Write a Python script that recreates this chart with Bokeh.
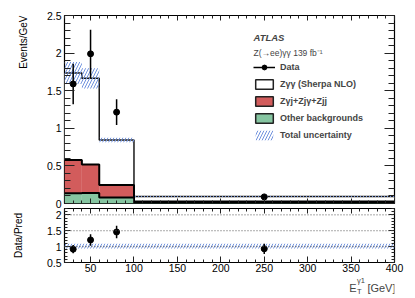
from bokeh.plotting import figure
from bokeh.layouts import column
from bokeh.models import (Range1d, FixedTicker, LinearAxis, Label, Legend, LegendItem,
                          Span, NumeralTickFormatter, Title)
from bokeh.embed import file_html
from bokeh.resources import INLINE

# ---------------- data ----------------
bin_edges = [20, 40, 60, 100, 400]
other_bkg = [0.135, 0.14, 0.08, 0.012]          # Other backgrounds
zgj_bkg = [0.445, 0.38, 0.165, 0.013]           # Zγj+Zjγ+Zjj
zgg_sherpa = [1.155, 1.145, 0.60, 0.068]        # Zγγ (Sherpa NLO)
total_unc = [0.145, 0.135, 0.03, 0.006]         # total uncertainty (abs)
data_x = [30, 50, 80, 250]
data_y = [1.59, 1.99, 1.215, 0.088]
data_err = [0.27, 0.32, 0.17, 0.015]
ratio_y = [0.92, 1.21, 1.46, 0.93]
ratio_err = [0.13, 0.18, 0.20, 0.16]
ratio_band_lo = [0.94, 0.94, 0.94, 0.94]
ratio_band_hi = [1.09, 1.09, 1.09, 1.09]
ratio_ref_lines = [1.0, 1.5, 2.0]

x_major = [50, 100, 150, 200, 250, 300, 350, 400]
x_minor = [v for v in range(20, 401, 10) if v % 50 != 0]
y_major = [0, 0.5, 1, 1.5, 2, 2.5]
y_minor = [round(v * 0.1, 1) for v in range(0, 26) if v % 5 != 0]
r_major = [0.5, 1, 1.5, 2]
r_minor = [round(v * 0.1, 1) for v in range(5, 23) if v % 5 != 0]

FONT = "Liberation Sans"
RED = "#d25c5c"
GREEN = "#86c5a1"
HATCH = "#6f91dd"

lefts = bin_edges[:-1]
rights = bin_edges[1:]
green_top = other_bkg[:]
red_top = [g + r for g, r in zip(green_top, zgj_bkg)]
total = [r + s for r, s in zip(red_top, zgg_sherpa)]


def stepy(vals):
    return vals + [vals[-1]]


def style_axis(ax, ticks, minor, tin, min_in, labels=True):
    ax.ticker = FixedTicker(ticks=ticks, minor_ticks=minor)
    ax.major_tick_in = tin
    ax.major_tick_out = 0
    ax.minor_tick_in = min_in
    ax.minor_tick_out = 0
    ax.axis_line_color = None
    ax.major_tick_line_color = "#222222"
    ax.minor_tick_line_color = "#222222"
    ax.major_tick_line_width = 1
    ax.minor_tick_line_width = 1
    if labels:
        ax.formatter = NumeralTickFormatter(format="0.[0]")
        ax.major_label_text_font = FONT
        ax.major_label_text_font_size = "10.5px"
        ax.major_label_text_color = "black"
    else:
        ax.major_label_text_color = None
        ax.major_label_text_font_size = "1px"
        ax.major_label_standoff = 0


def axis_title(ax, text, standoff):
    ax.axis_label = text
    ax.axis_label_text_font = FONT
    ax.axis_label_text_font_size = "10px"
    ax.axis_label_text_font_style = "normal"
    ax.axis_label_text_color = "black"
    ax.axis_label_standoff = standoff


W = 410
BL, BR = 64, 16

# ---------------- top panel ----------------
p1 = figure(width=W, height=208, x_range=Range1d(20, 400), y_range=Range1d(0, 2.5),
            output_backend="svg", toolbar_location=None,
            x_axis_location=None, y_axis_location=None,
            min_border_left=BL, min_border_right=BR, min_border_top=15, min_border_bottom=5)
p1.grid.visible = False
p1.outline_line_color = "black"
p1.outline_line_width = 1.2

ax = LinearAxis(); style_axis(ax, y_major, y_minor, 10, 6); ax.major_label_standoff = 3
p1.add_layout(ax, "left")
# ROOT-style y title, aligned with the top of the axis
p1.add_layout(Title(text="Events/GeV", align="right", vertical_align="bottom", standoff=30,
                    offset=0, text_font=FONT, text_font_size="10px",
                    text_font_style="normal", text_color="black"), "left")
ax = LinearAxis(); style_axis(ax, y_major, y_minor, 10, 6, labels=False)
p1.add_layout(ax, "right")
ax = LinearAxis(); style_axis(ax, x_major, x_minor, 5, 3, labels=False)
p1.add_layout(ax, "below")
ax = LinearAxis(); style_axis(ax, x_major, x_minor, 5, 3, labels=False)
p1.add_layout(ax, "above")

p1.quad(left=lefts, right=rights, bottom=0, top=green_top, fill_color=GREEN, line_alpha=0)
p1.quad(left=lefts, right=rights, bottom=green_top, top=red_top, fill_color=RED, line_alpha=0)
p1.quad(left=lefts, right=rights, bottom=red_top, top=total, fill_color="white", line_alpha=0)
p1.step(x=bin_edges, y=stepy(total), mode="after", line_color="#1a1a1a", line_width=1.5)
p1.step(x=bin_edges, y=stepy(red_top), mode="after", line_color="black", line_width=2)
p1.step(x=bin_edges, y=stepy(green_top), mode="after", line_color="black", line_width=2)
p1.quad(left=lefts, right=rights,
        bottom=[t - u for t, u in zip(total, total_unc)],
        top=[t + u for t, u in zip(total, total_unc)],
        fill_alpha=0, line_alpha=0, hatch_pattern="/", hatch_color=HATCH,
        hatch_scale=6, hatch_weight=1)
err = p1.segment(x0=data_x, x1=data_x,
                 y0=[y - e for y, e in zip(data_y, data_err)],
                 y1=[y + e for y, e in zip(data_y, data_err)],
                 line_color="black", line_width=1.5)
pts = p1.scatter(x=data_x, y=data_y, size=6, marker="circle", fill_color="black", line_color="black")

# legend proxies: zero-size boxes at the axis origin (only their styles are used)
x0p = [bin_edges[0]]
y0p = [0]
lg_zgg = p1.quad(left=x0p, right=x0p, bottom=y0p, top=y0p, fill_color="white",
                 line_color="#222222", line_width=1.5)
lg_red = p1.quad(left=x0p, right=x0p, bottom=y0p, top=y0p, fill_color=RED,
                 line_color="#222222", line_width=1.5)
lg_green = p1.quad(left=x0p, right=x0p, bottom=y0p, top=y0p, fill_color=GREEN,
                   line_color="#222222", line_width=1.5)
lg_unc = p1.quad(left=x0p, right=x0p, bottom=y0p, top=y0p, fill_alpha=0, line_alpha=0,
                 hatch_pattern="/", hatch_color=HATCH, hatch_scale=6, hatch_weight=1)

legend = Legend(items=[
    LegendItem(label="Data", renderers=[err, pts]),
    LegendItem(label="Zγγ (Sherpa NLO)", renderers=[lg_zgg]),
    LegendItem(label="Zγj+Zjγ+Zjj", renderers=[lg_red]),
    LegendItem(label="Other backgrounds", renderers=[lg_green]),
    LegendItem(label="Total uncertainty", renderers=[lg_unc]),
], location=(189, 62))
legend.padding = 0
legend.margin = 0
legend.spacing = 5
legend.glyph_width = 22
legend.glyph_height = 12
legend.label_height = 12
legend.label_standoff = 5
legend.label_text_font = FONT
legend.label_text_font_style = "bold"
legend.label_text_font_size = "9px"
legend.border_line_alpha = 0
legend.background_fill_alpha = 0
p1.add_layout(legend, "center")

p1.add_layout(Label(x=189, y=166, x_units="screen", y_units="screen", text="ATLAS",
                    text_font=FONT, text_font_style="bold italic", text_font_size="9.5px",
                    text_baseline="alphabetic"))
p1.add_layout(Label(x=189, y=150.5, x_units="screen", y_units="screen", text="Z(→ee)γγ 139 fb⁻¹",
                    text_font=FONT, text_font_size="8.5px", text_baseline="alphabetic"))

# ---------------- ratio panel ----------------
p2 = figure(width=W, height=68, x_range=p1.x_range, y_range=Range1d(0.5, 2.2),
            output_backend="svg", toolbar_location=None,
            x_axis_location=None, y_axis_location=None,
            min_border_left=BL, min_border_right=BR, min_border_top=0, min_border_bottom=14)
p2.grid.visible = False
p2.outline_line_color = "black"
p2.outline_line_width = 1.2

ax = LinearAxis(); style_axis(ax, r_major, r_minor, 6, 3); ax.major_label_standoff = 3
axis_title(ax, "Data/Pred", 20)
p2.add_layout(ax, "left")
ax = LinearAxis(); style_axis(ax, r_major, r_minor, 6, 3, labels=False)
p2.add_layout(ax, "right")
ax = LinearAxis(); style_axis(ax, x_major, x_minor, 6, 3); ax.major_label_standoff = 1
p2.add_layout(ax, "below")
ax = LinearAxis(); style_axis(ax, x_major, x_minor, 5, 3, labels=False)
p2.add_layout(ax, "above")

for v in ratio_ref_lines:
    p2.add_layout(Span(location=v, dimension="width", line_color="#555555",
                       line_dash="1 2", line_width=1))
p2.quad(left=lefts, right=rights, bottom=ratio_band_lo, top=ratio_band_hi,
        fill_alpha=0, line_alpha=0, hatch_pattern="/", hatch_color=HATCH,
        hatch_scale=6, hatch_weight=1)
p2.segment(x0=data_x, x1=data_x,
           y0=[y - e for y, e in zip(ratio_y, ratio_err)],
           y1=[y + e for y, e in zip(ratio_y, ratio_err)],
           line_color="black", line_width=1.5)
p2.scatter(x=data_x, y=ratio_y, size=6, marker="circle", fill_color="black", line_color="black")

# ---------------- x-axis title strip (frame aligned with the panels above) ----------------
p3 = figure(width=W, height=19, x_range=Range1d(0, 1), y_range=Range1d(0, 1),
            output_backend="svg", toolbar_location=None,
            x_axis_location=None, y_axis_location=None,
            min_border_left=BL, min_border_right=BR, min_border_top=0, min_border_bottom=0)
p3.grid.visible = False
p3.outline_line_color = None
p3.add_layout(Label(x=331, y=8, x_units="screen", y_units="screen", text="[GeV]",
                    text_align="right", text_baseline="alphabetic",
                    text_font=FONT, text_font_size="11px"))
p3.add_layout(Label(x=292, y=8, x_units="screen", y_units="screen", text="E",
                    text_align="right", text_baseline="alphabetic",
                    text_font=FONT, text_font_size="11px"))
p3.add_layout(Label(x=292.5, y=15, x_units="screen", y_units="screen", text="γ1",
                    text_align="left", text_baseline="alphabetic",
                    text_font=FONT, text_font_size="7.5px"))
p3.add_layout(Label(x=292.5, y=4.5, x_units="screen", y_units="screen", text="T",
                    text_align="left", text_baseline="alphabetic",
                    text_font=FONT, text_font_size="7.5px"))

layout = column(p1, p2, p3)
open("out.html", "w").write(file_html(layout, INLINE))
